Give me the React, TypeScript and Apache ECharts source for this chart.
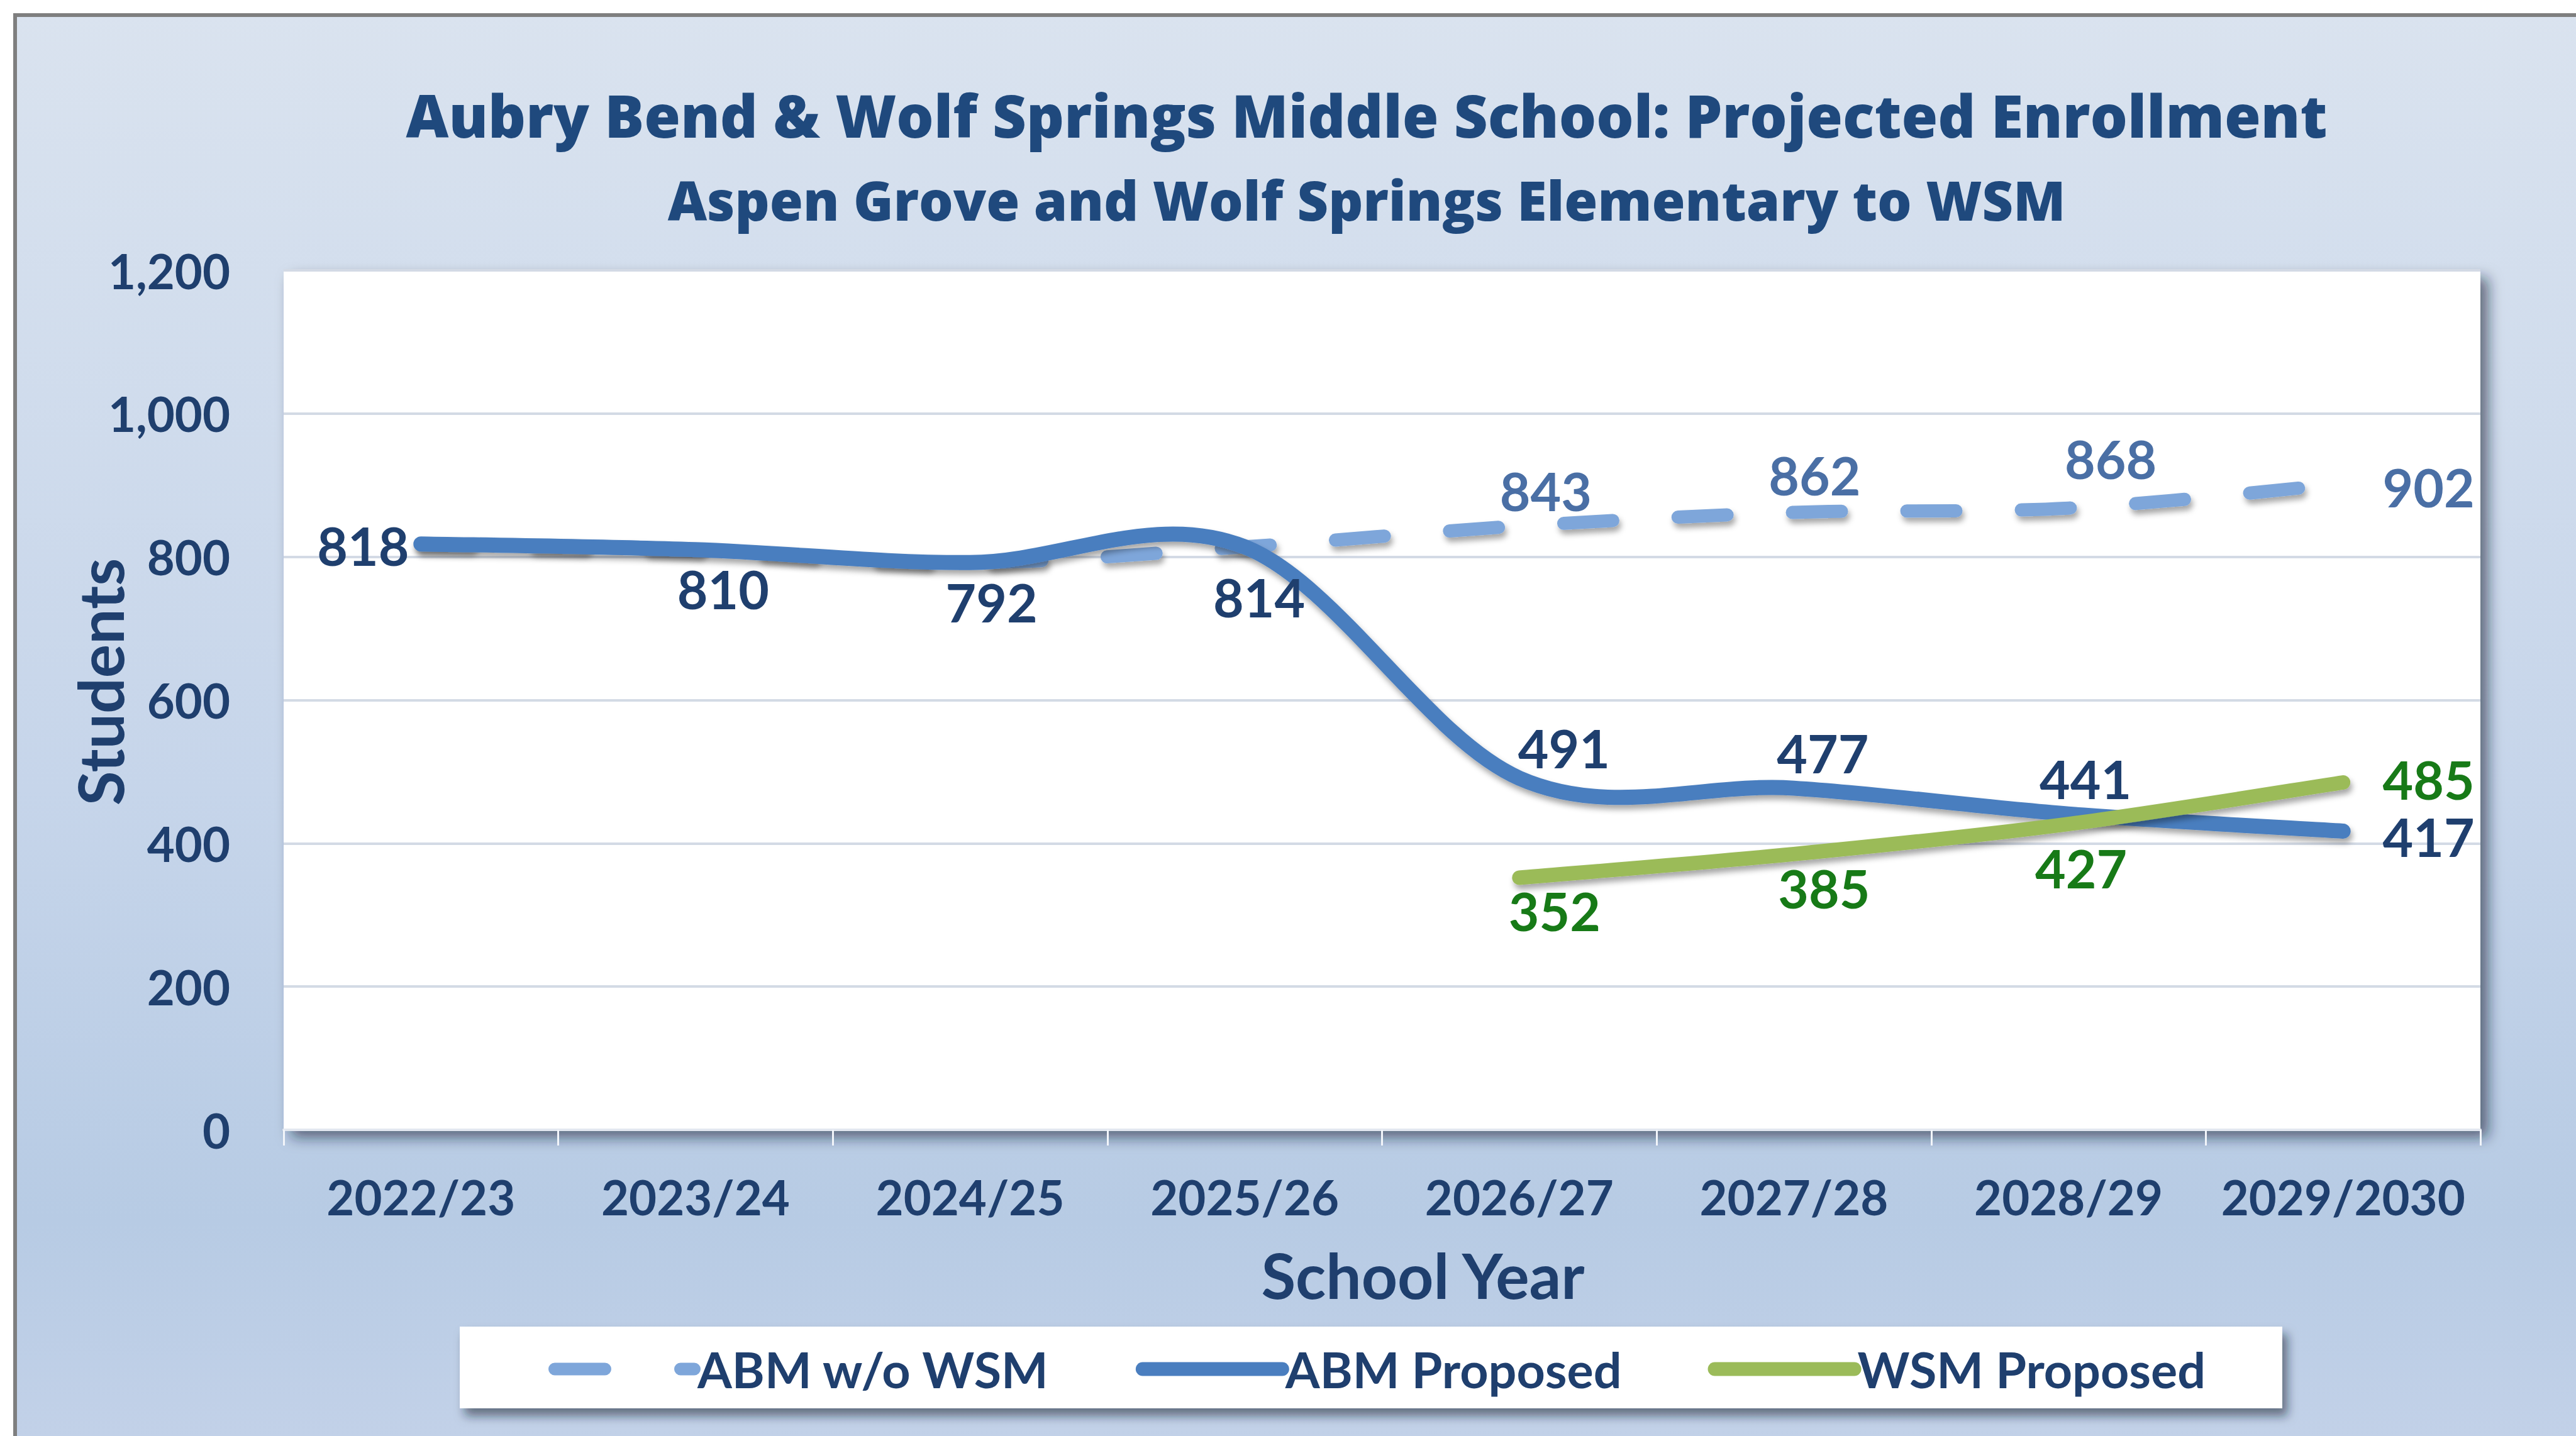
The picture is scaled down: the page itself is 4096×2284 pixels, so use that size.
import React, { useEffect, useRef } from "react";
import * as echarts from "echarts";

// ---------- data ----------
const categories = ["2022/23", "2023/24", "2024/25", "2025/26", "2026/27", "2027/28", "2028/29", "2029/2030"];
const abmWithoutWsm = [818, 810, 792, 814, 843, 862, 868, 902];
const abmWithoutWsmLabelShown = [false, false, false, false, true, true, true, true];
const abmProposed = [818, 810, 792, 814, 491, 477, 441, 417];
const wsmProposed: (number | null)[] = [null, null, null, null, 352, 385, 427, 485];
const seriesNames = ["ABM w/o WSM", "ABM Proposed", "WSM Proposed"];
const yMin = 0;
const yMax = 1200;
const yInterval = 200;
const titleText = "Aubry Bend & Wolf Springs Middle School: Projected Enrollment";
const subtitleText = "Aspen Grove and Wolf Springs Elementary to WSM";
const xAxisName = "School Year";
const yAxisName = "Students";

// ---------- label placement (style, px offsets from each point) ----------
const abmWithoutOffsets: number[][] = [[0, 0], [0, 0], [0, 0], [0, 0], [42, -56], [33, -60], [67, -79], [136, 5]];
const abmProposedOffsets: number[][] = [[-92, 2], [44, 62], [34, 63], [23, 80], [71, -48], [46, -56], [27, -56], [136, 9]];
const wsmOffsets: number[][] = [[0, 0], [0, 0], [0, 0], [0, 0], [56, 52], [48, 54], [20, 70], [136, -5]];

const NAVY = "#1F3F6E";
const TITLE = "#1F497D";
const LIGHT_LABEL = "#4A6FA5";
const GREEN_LABEL = "#177A17";
const DASH_COLOR = "#7EA6DA";
const SOLID_COLOR = "#4A7EBF";
const GREEN_COLOR = "#9BBB59";
const FONT = "Lato, 'Open Sans', sans-serif";
const TITLE_FONT = "'Open Sans', Lato, sans-serif";

function buildData(values: (number | null)[], offsets: number[][], color: string, shown?: boolean[]) {
  return values.map((v, i) => {
    if (v === null) return null;
    const show = shown ? shown[i] : true;
    return {
      value: v,
      label: { show, position: "inside", offset: offsets[i], color },
    };
  });
}

// Catmull-Rom (Excel-like) smoothing through pixel points
function smoothPath(pts: number[][]): string {
  let d = `M${pts[0][0]},${pts[0][1]}`;
  for (let i = 0; i < pts.length - 1; i++) {
    const p0 = pts[i - 1] || pts[i];
    const p1 = pts[i];
    const p2 = pts[i + 1];
    const p3 = pts[i + 2] || p2;
    const c1x = p1[0] + (p2[0] - p0[0]) / 6;
    const c1y = p1[1] + (p2[1] - p0[1]) / 6;
    const c2x = p2[0] - (p3[0] - p1[0]) / 6;
    const c2y = p2[1] - (p3[1] - p1[1]) / 6;
    d += ` C${c1x},${c1y} ${c2x},${c2y} ${p2[0]},${p2[1]}`;
  }
  return d;
}

function curveSeries(name: string, values: (number | null)[], stroke: string, width: number, dash: number[] | null, z: number) {
  const pairs: number[][] = [];
  values.forEach((v, i) => {
    if (v !== null) pairs.push([i, v]);
  });
  return {
    name,
    type: "custom",
    silent: true,
    z,
    clip: false,
    data: pairs,
    encode: { x: 0, y: 1 },
    renderItem: (params: any, api: any) => {
      if (params.dataIndex !== 0) return null;
      const pts = pairs.map((p) => api.coord(p));
      return {
        type: "path",
        shape: { pathData: smoothPath(pts) },
        style: {
          fill: "none",
          stroke,
          lineWidth: width,
          lineCap: "round",
          lineJoin: "round",
          lineDash: dash || undefined,
          shadowColor: "rgba(0,0,0,0.35)",
          shadowBlur: 10,
          shadowOffsetX: 3,
          shadowOffsetY: 7,
        },
      };
    },
  };
}

export default function App() {
  const ref = useRef<HTMLDivElement>(null);
  useEffect(() => {
    if (!ref.current) return;
    const chart = echarts.init(ref.current, undefined, { renderer: "svg" });
    const labelBase = {
      fontFamily: FONT,
      fontWeight: "bold",
      fontSize: 84,
      lineHeight: 62,
    };
    const hiddenLine = { width: 0, opacity: 0 };
    chart.setOption({
      animation: false,
      backgroundColor: new echarts.graphic.LinearGradient(0, 0, 0, 1, [
        { offset: 0, color: "#DAE3EF" },
        { offset: 0.55, color: "#C6D5EA" },
        { offset: 0.85, color: "#B7CBE4" },
        { offset: 1, color: "#C2D1E8" },
      ]),
      title: [
        {
          text: titleText,
          left: 2168,
          top: 130,
          textAlign: "center",
          textStyle: { fontFamily: TITLE_FONT, fontWeight: 800, fontSize: 93.5, color: TITLE },
        },
        {
          text: subtitleText,
          left: 2168,
          top: 269,
          textAlign: "center",
          textStyle: { fontFamily: TITLE_FONT, fontWeight: 800, fontSize: 86, color: TITLE },
        },
      ],
      grid: {
        left: 451,
        right: 152,
        top: 430,
        bottom: 487,
        show: true,
        backgroundColor: "#FFFFFF",
        borderWidth: 0,
        shadowColor: "rgba(20,30,50,0.6)",
        shadowBlur: 22,
        shadowOffsetX: 12,
        shadowOffsetY: 12,
      },
      legend: {
        left: 867,
        top: 2133,
        itemWidth: 222,
        itemHeight: 24,
        itemGap: 137,
        data: [
          {
            name: seriesNames[0],
            itemStyle: { color: "rgba(0,0,0,0)", borderWidth: 0 },
            lineStyle: { color: DASH_COLOR, width: 20, type: [80, 120], cap: "round", opacity: 1 },
          },
          {
            name: seriesNames[1],
            itemStyle: { color: "rgba(0,0,0,0)", borderWidth: 0 },
            lineStyle: { color: SOLID_COLOR, width: 22, type: "solid", cap: "round", opacity: 1 },
          },
          {
            name: seriesNames[2],
            itemStyle: { color: "rgba(0,0,0,0)", borderWidth: 0 },
            lineStyle: { color: GREEN_COLOR, width: 22, type: "solid", cap: "round", opacity: 1 },
          },
        ],
        textStyle: { fontFamily: FONT, fontWeight: "bold", fontSize: 79, color: NAVY },
      },
      xAxis: {
        type: "category",
        data: categories,
        boundaryGap: true,
        name: xAxisName,
        nameLocation: "middle",
        nameGap: 180,
        nameMoveOverlap: false,
        nameTextStyle: { fontFamily: FONT, fontWeight: "bold", fontSize: 100, color: NAVY, padding: [0, 0, 0, 130] },
        axisLine: { show: true, lineStyle: { color: "#E3E8F0", width: 4 } },
        axisTick: { show: true, length: 25, lineStyle: { color: "#F2F5FA", width: 3 } },
        axisLabel: { interval: 0, margin: 68, fontFamily: FONT, fontWeight: "bold", fontSize: 76, color: NAVY },
        splitLine: { show: false },
      },
      yAxis: {
        type: "value",
        min: yMin,
        max: yMax,
        interval: yInterval,
        name: yAxisName,
        nameLocation: "middle",
        nameGap: 243,
        nameMoveOverlap: false,
        nameTextStyle: { fontFamily: FONT, fontWeight: "bold", fontSize: 100, color: NAVY, padding: [0, 0, 0, 58] },
        axisLine: { show: false },
        axisTick: { show: false },
        axisLabel: {
          margin: 85,
          fontFamily: FONT,
          fontWeight: "bold",
          fontSize: 76,
          color: NAVY,
          formatter: (v: number) => v.toLocaleString("en-US"),
        },
        splitLine: { show: true, lineStyle: { color: "#D3DAE5", width: 4 } },
      },
      graphic: [
        { type: "rect", silent: true, shape: { x: 0, y: 0, width: 4096, height: 21 }, style: { fill: "#FFFFFF" } },
        { type: "rect", silent: true, shape: { x: 0, y: 0, width: 21, height: 2284 }, style: { fill: "#FFFFFF" } },
        { type: "rect", silent: true, shape: { x: 21, y: 21, width: 4075, height: 6 }, style: { fill: "#7F7F7F" } },
        { type: "rect", silent: true, shape: { x: 21, y: 21, width: 6, height: 2263 }, style: { fill: "#7F7F7F" } },
        {
          type: "rect",
          silent: true,
          z: 1,
          shape: { x: 731, y: 2110, width: 2898, height: 130 },
          style: {
            fill: "#FFFFFF",
            shadowColor: "rgba(20,30,50,0.55)",
            shadowBlur: 16,
            shadowOffsetX: 8,
            shadowOffsetY: 12,
          },
        },
      ],
      series: [
        curveSeries("ABM w/o WSM curve", abmWithoutWsm, DASH_COLOR, 21, [78, 104], 2),
        curveSeries("ABM Proposed curve", abmProposed, SOLID_COLOR, 24, null, 3),
        curveSeries("WSM Proposed curve", wsmProposed, GREEN_COLOR, 23, null, 4),
        {
          name: seriesNames[0],
          type: "line",
          symbol: "circle",
          symbolSize: 2,
          itemStyle: { color: "rgba(0,0,0,0)" },
          lineStyle: hiddenLine,
          label: { ...labelBase, color: LIGHT_LABEL },
          data: buildData(abmWithoutWsm, abmWithoutOffsets, LIGHT_LABEL, abmWithoutWsmLabelShown),
          z: 5,
        },
        {
          name: seriesNames[1],
          type: "line",
          symbol: "circle",
          symbolSize: 2,
          itemStyle: { color: "rgba(0,0,0,0)" },
          lineStyle: hiddenLine,
          label: { ...labelBase, color: NAVY },
          data: buildData(abmProposed, abmProposedOffsets, NAVY),
          z: 5,
        },
        {
          name: seriesNames[2],
          type: "line",
          symbol: "circle",
          symbolSize: 2,
          itemStyle: { color: "rgba(0,0,0,0)" },
          lineStyle: hiddenLine,
          label: { ...labelBase, color: GREEN_LABEL },
          data: buildData(wsmProposed, wsmOffsets, GREEN_LABEL),
          z: 5,
        },
      ],
    });
    return () => chart.dispose();
  }, []);
  return <div ref={ref} style={{ position: "fixed", left: 0, top: 0, width: 4096, height: 2284 }} />;
}
